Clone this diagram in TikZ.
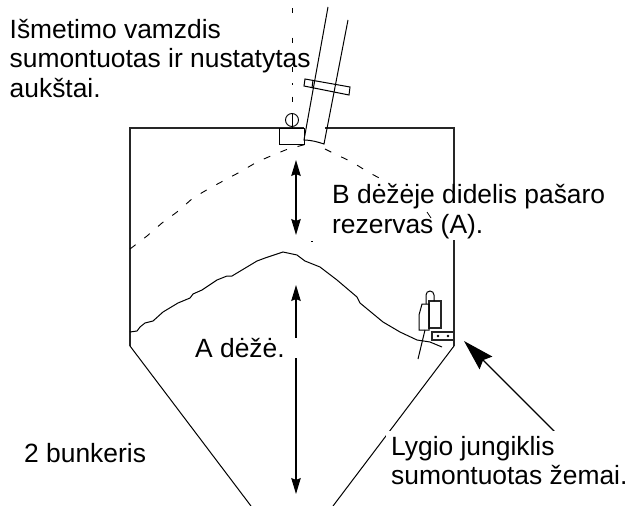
\documentclass[tikz,border=0pt]{standalone}
\usepackage{fontspec}
\setmainfont{Liberation Sans}
\usetikzlibrary{arrows.meta}

\begin{document}
\begin{tikzpicture}
      \begin{scope}[x=1pt,y=-1pt]
        \tikzstyle{wall} = [line width=1.4pt, draw=black!85, line join=miter]
        \tikzstyle{thinl} = [line width=1pt, draw=black]
        \tikzstyle{roofl} = [line width=0.9pt, draw=black, dash pattern=on 7pt off 11pt]
        \tikzstyle{levelarrow} = [line width=1.1pt, draw=black, {Stealth[length=16pt,width=9.5pt,inset=2pt]}-{Stealth[length=16pt,width=9.5pt,inset=2pt]}]
        \tikzstyle{bigarrow} = [line width=1.2pt, draw=black, {Stealth[length=31pt,width=18pt,inset=4pt]}-]
        \tikzstyle{txt} = [font=\fontsize{26.4}{29.5}\selectfont, align=left, text=black]
        \tikzstyle{boxtxt} = [txt, fill=white, inner sep=0pt]
        \useasboundingbox (0,0) rectangle (632,506);

        % bin outline
        \draw[wall] (304,128) -- (130,128) -- (130,346);
        \draw[wall] (325,128) -- (454,128) -- (454,346);
        \draw[thinl] (130,346) -- (251,506);
        \draw[thinl] (454,346) -- (333,506);

        % feed surface and roof line
        \draw[thinl] (130,332) -- (137,331) -- (140,327) -- (145,323) -- (153,321) -- (163,312) -- (178,303) -- (190,298) -- (193,294) -- (202,290) -- (217,280) -- (227,276) -- (232,276) -- (257,261) -- (265,258) -- (283,252) -- (297,255) -- (305,261) -- (320,267) -- (337,280) -- (357,297) -- (360,303) -- (383,322) -- (400,332) -- (417,340) -- (430,342) -- (442,347);
        \draw[roofl] (130,249) -- (147,236) -- (162,223) -- (177,212) -- (193,198) -- (210,188) -- (225,180) -- (240,172) -- (257,162) -- (273,155) -- (288,149) -- (307,144);
        \draw[roofl] (325,149) -- (333,153) -- (352,162) -- (368,172) -- (383,180) -- (412,197);

        % filling pipe
        \draw[thinl] (328,7) -- (304,140) .. controls (311,140) and (318,142) .. (324,144) -- (348,20);
        \draw[thinl] (305,79) -- (350,87) -- (349,95) -- (304,86) -- cycle;
        \draw[thinl] (313,80) -- (312,88);
        \draw[thinl] (279,128) rectangle (304,144);
        \node[circle, draw=black, line width=0.9pt, minimum size=13pt, inner sep=0pt] (gauge) at (292,120) {};
        \draw[line width=0.9pt, dash pattern=on 5pt off 24.5pt] (292,8) -- (292,102);
        \draw[line width=0.9pt] (292,83) -- (292,85);
        \draw[line width=0.9pt] (292,113) -- (292,128);

        % level switch
        \draw[wall] (429,301) rectangle (441,328);
        \draw[thinl] (429,304) -- (422,304) -- (419,315) -- (419,330) -- (429,330) -- cycle;
        \draw[thinl] (426,304) -- (426,295) arc[start angle=180, end angle=360, radius=4] -- (434,301);
        \draw[thinl] (425,330) -- (418,359);
        \draw[wall] (432,332) rectangle (454,340);
        \fill (438,336) circle (1.4pt);
        \fill (448,336) circle (1.4pt);

        % labels
        \node[txt, anchor=north west, inner sep=0pt] (pipelabel) at (9.5,19) {Išmetimo vamzdis\\sumontuotas ir nustatytas\\aukštai.};
        \node[boxtxt, anchor=north west, inner ysep=1pt] (reservelabel) at (332,183.5) {B dėžėje didelis pašaro\\rezervas (A).};
        \node[txt, anchor=north west, inner sep=0pt] (hopperlabel) at (24,443.5) {2 bunkeris};

        % arrows
        \coordinate (btop) at (296,160);
        \coordinate (bbot) at (296,235);
        \coordinate (atop) at (296,285);
        \coordinate (abot) at (296,494);
        \coordinate (tip) at (464,341);
        \coordinate (tail) at (555,432);
        \draw[levelarrow] (btop) -- (bbot);
        \draw[levelarrow] (atop) -- (abot);
        \draw[bigarrow] (tip) -- (tail);
        \node[boxtxt, anchor=north west, inner xsep=0pt] (boxalabel) at (195,338) {A dėžė.\hspace{16pt}};
        \node[boxtxt, anchor=north west, inner sep=5pt] (switchlabel) at (386,431) {Lygio jungiklis\\sumontuotas žemai.};

        % small specks
        \draw[line width=0.7pt] (427,212) -- (431,218);
        \draw[line width=0.7pt] (311,241) -- (313,241);
      \end{scope}
    \end{tikzpicture}
\end{document}
